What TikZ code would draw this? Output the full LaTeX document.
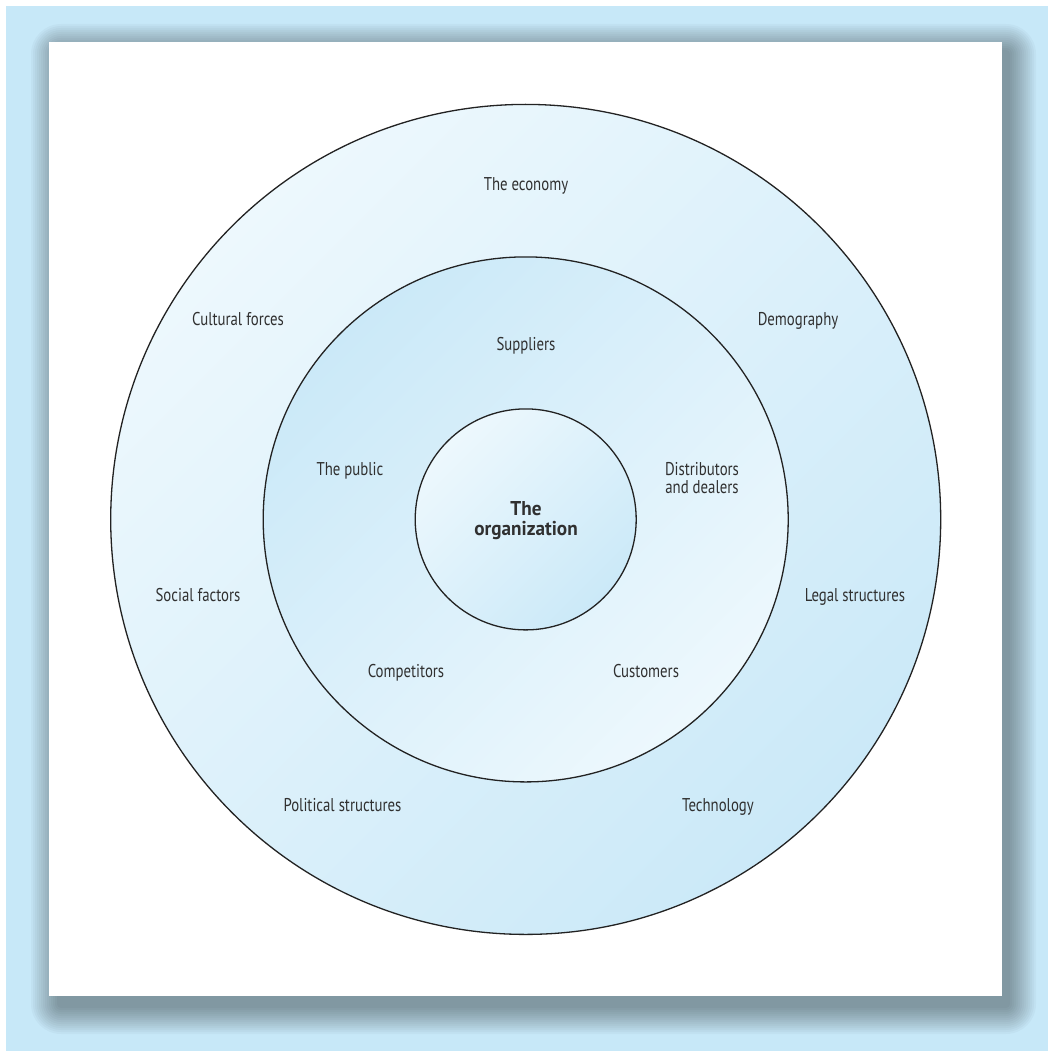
\documentclass[tikz,border=0pt]{standalone}
\usepackage{fontspec}
\setmainfont{PT Sans}[FakeStretch=0.8]
\newfontfamily\orgfont{PT Sans}[FakeStretch=0.96]
\definecolor{bgblue}{HTML}{C7E8F8}
\definecolor{lightc}{HTML}{EDF8FD}
\definecolor{darkc}{HTML}{CBE9F8}
\definecolor{txt}{HTML}{303030}
\definecolor{ringline}{HTML}{222222}
\begin{document}
\begin{tikzpicture}[x=1pt,y=-1pt,
  lbl/.style={text=txt, font=\fontsize{18.5}{18}\selectfont, align=center, inner sep=0pt, anchor=base},
  ring/.style={draw=ringline, line width=1.3pt}]
\useasboundingbox (0,0) rectangle (1048,1051);
\fill[bgblue] (6,6) rectangle (1048,1051);
% soft shadow of the panel
\foreach \k in {0,...,13}{
  \pgfmathsetmacro\rr{2*\k+4}
  \fill[black, fill opacity=0.028, rounded corners=\rr pt]
    ({57-2*\k},{50-2*\k}) rectangle ({1010+2*\k},{1008+2*\k});
}
\fill[white] (49,42) rectangle (1002,996);
% rings
\coordinate (c) at (525.7,519.4);
\shade[ring, top color=lightc, bottom color=darkc, shading angle=45] (c) circle[radius=415];
\shade[ring, top color=darkc, bottom color=lightc, shading angle=45] (c) circle[radius=262.5];
\shade[ring, top color=lightc, bottom color=darkc, shading angle=45] (c) circle[radius=110.5];
% labels
\node[lbl] (economy) at (526,190) {The economy};
\node[lbl] (cultural) at (238,325) {Cultural forces};
\node[lbl] (demography) at (798,325) {Demography};
\node[lbl] (suppliers) at (526,350) {Suppliers};
\node[lbl] (public) at (350,475) {The public};
\node[lbl] (distributors) at (702,493) {Distributors\\and dealers};
\node[lbl, font=\orgfont\bfseries\fontsize{20}{19.5}\selectfont] (organization) at (526,535) {The\\organization};
\node[lbl] (social) at (198,601) {Social factors};
\node[lbl] (legal) at (855,601) {Legal structures};
\node[lbl] (competitors) at (406,677) {Competitors};
\node[lbl] (customers) at (646,677) {Customers};
\node[lbl] (political) at (342.5,811.7) {Political structures};
\node[lbl] (technology) at (718,811.7) {Technology};
\end{tikzpicture}
\end{document}
